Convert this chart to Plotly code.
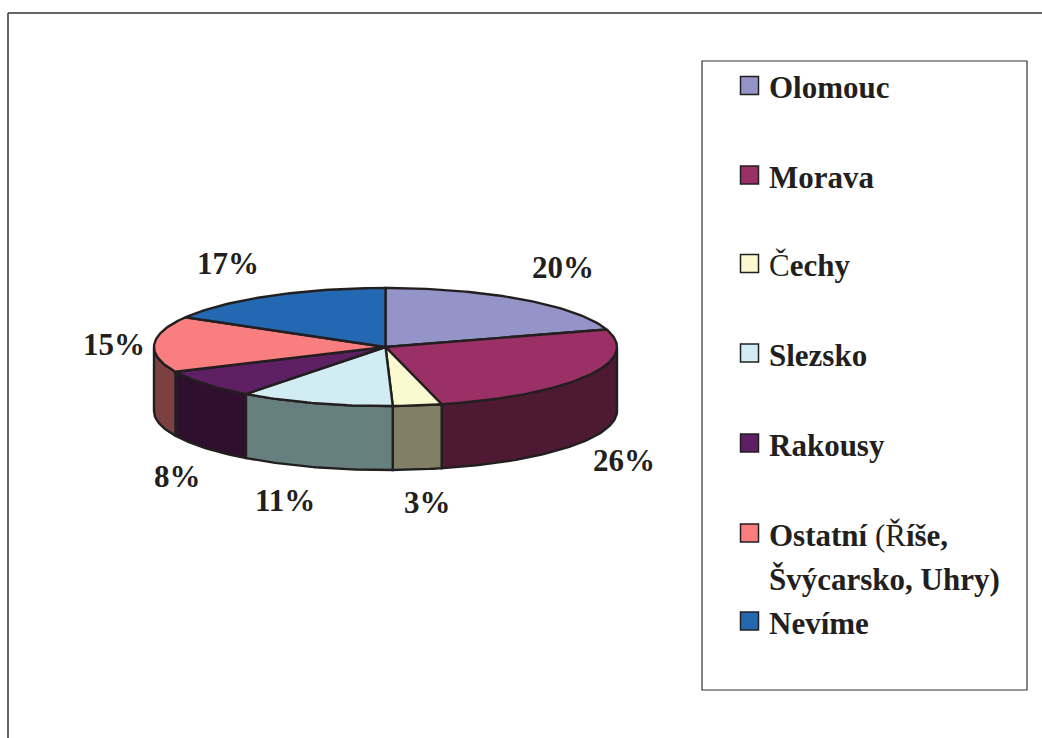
import numpy as np
import plotly.graph_objects as go

categories = ['Olomouc', 'Morava', 'Čechy', 'Slezsko', 'Rakousy', 'Ostatní', 'Nevíme']
shares = [20.2, 25.9, 3.4, 10.8, 7.8, 15.3, 16.6]
legend_lines = [
    ['<b>Olomouc</b>'],
    ['<b>Morava</b>'],
    ['Č<b>echy</b>'],
    ['<b>Slezsko</b>'],
    ['<b>Rakousy</b>'],
    ['<b>Ostatní </b>(Ř<b>íše,</b>', '<b>Švýcarsko, Uhry)</b>'],
    ['<b>Nevíme</b>'],
]
top_colors = ['#9594C8', '#9A3065', '#FBF9CF', '#D1ECF3', '#5F1F63', '#F87E80', '#2568B2']
side_colors = ['#4A4A64', '#4E1A33', '#817F66', '#65807F', '#2F0F2E', '#7C4040', '#133459']

# layout of the page, in pixels (axes run 1:1 with the window)
W, H = 1042, 738
CX, CY, RX, RY, DEPTH = 385.5, 347, 231.5, 59, 64
INK = '#231F20'
FONT = 'Liberation Serif'
label_pos = [(563, 267), (624, 460), (427, 502), (285, 500), (177, 476), (114, 344), (228, 263)]
legend_y = [85.5, 175, 263.5, 353, 443, 533, 621]
LINE_GAP = 44


def rim(a0, a1, dy=0):
    """Points on the pie rim, angles clockwise from 12 o'clock in degrees"""
    t = np.radians(np.linspace(a0, a1, max(int(abs(a1 - a0)), 2) + 1))
    return CX + RX * np.sin(t), CY - RY * np.cos(t) + dy


fig = go.Figure()

edges = np.concatenate([[0], np.cumsum(shares)]) * 3.6 / sum(shares) * 100

# side walls, only the part facing the viewer
for i, name in enumerate(categories):
    a0, a1 = max(edges[i], 90), min(edges[i + 1], 270)
    if a0 >= a1:
        continue
    x_top, y_top = rim(a0, a1)
    x_bot, y_bot = rim(a1, a0, DEPTH)
    fig.add_trace(go.Scatter(
        x=np.concatenate([x_top, x_bot, x_top[:1]]),
        y=np.concatenate([y_top, y_bot, y_top[:1]]),
        mode='lines', fill='toself', fillcolor=side_colors[i],
        line=dict(color=INK, width=2.4), name=name, hoverinfo='name', showlegend=False
    ))

# top face
for i, name in enumerate(categories):
    x_arc, y_arc = rim(edges[i], edges[i + 1])
    fig.add_trace(go.Scatter(
        x=np.concatenate([[CX], x_arc, [CX]]),
        y=np.concatenate([[CY], y_arc, [CY]]),
        mode='lines', fill='toself', fillcolor=top_colors[i],
        line=dict(color=INK, width=2.4), name=name, hoverinfo='name', showlegend=False
    ))

# legend swatches
fig.add_trace(go.Scatter(
    x=[749.5] * len(categories), y=legend_y, mode='markers',
    marker=dict(symbol='square', size=18, color=top_colors, line=dict(color=INK, width=1.5)),
    hoverinfo='skip', showlegend=False
))

annotations = []
for share, (px, py) in zip(shares, label_pos):
    annotations.append(dict(
        x=px, y=py, text=f'<b>{round(share)}%</b>', showarrow=False,
        font=dict(family=FONT, size=31, color=INK), xanchor='center', yanchor='middle'
    ))
for lines, ly in zip(legend_lines, legend_y):
    for k, line in enumerate(lines):
        annotations.append(dict(
            x=767, y=ly + 2 + k * LINE_GAP, text=line, showarrow=False,
            font=dict(family=FONT, size=31, color=INK), xanchor='left', yanchor='middle'
        ))

fig.update_layout(
    width=W, height=H,
    margin=dict(l=0, r=0, t=0, b=0),
    paper_bgcolor='white', plot_bgcolor='white',
    xaxis=dict(range=[0, W], visible=False, fixedrange=True),
    yaxis=dict(range=[H, 0], visible=False, fixedrange=True),
    annotations=annotations,
    shapes=[
        dict(type='rect', x0=702, x1=1027, y0=61, y1=690, line=dict(color='#333333', width=1.2)),
        dict(type='line', x0=8, x1=W, y0=13, y1=13, line=dict(color='#333333', width=1.5)),
        dict(type='line', x0=8, x1=8, y0=13, y1=H, line=dict(color='#333333', width=1.5)),
    ],
)

fig.write_html("out.html", config={'displayModeBar': False},
               post_script="document.body.style.margin='0';")
